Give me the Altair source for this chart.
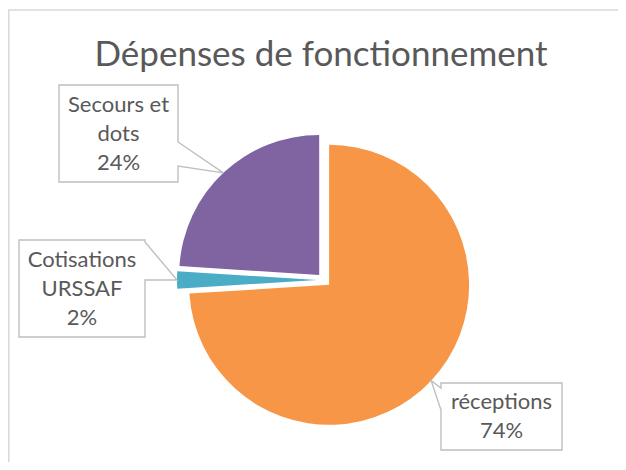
import math
import altair as alt
import pandas as pd

# ---------------- data ----------------
CATEGORIES = ["réceptions", "Cotisations URSSAF", "Secours et dots"]
VALUES = [74, 2, 24]
LABEL_LINES = ["réceptions", "Cotisations\nURSSAF", "Secours et\ndots"]
COLORS = ["#F79646", "#4BACC6", "#8064A2"]
TITLE = "Dépenses de fonctionnement"

# ---------------- layout ----------------
W, H = 610, 454
CX, CY, R, EXPLODE = 316, 272, 140, 7
FONT = "Lato"
TEXT_COLOR = "#595959"
BOX_COLOR = "#BFBFBF"
FRAME_COLOR = "#D9D9D9"
LINE_H = 29

# callout boxes: (x0, y0, x1, y1), side where the pointer leaves, pointer attach ys
CALLOUTS = {
    "Secours et dots": dict(box=(51, 77, 170, 174), side="right", attach=(134, 158)),
    "Cotisations URSSAF": dict(box=(11, 232, 137, 329), side="right", attach=(234, 272)),
    "réceptions": dict(box=(433, 375, 554, 442), side="left", attach=(380, 402)),
}

total = sum(VALUES)
cum = 0
path_rows = []
text_rows = []
for cat, val, lines in zip(CATEGORIES, VALUES, LABEL_LINES):
    cum += val
    mid = 2 * math.pi * (cum - val / 2) / total
    tx = CX + (EXPLODE + R) * math.sin(mid)
    ty = CY - (EXPLODE + R) * math.cos(mid)
    c = CALLOUTS[cat]
    x0, y0, x1, y1 = c["box"]
    a0, a1 = c["attach"]
    if c["side"] == "right":
        pts = [(x0, y0), (x1, y0), (x1, a0), (tx, ty), (x1, a1), (x1, y1), (x0, y1), (x0, y0)]
    else:
        pts = [(x0, y0), (x1, y0), (x1, y1), (x0, y1), (x0, a1), (tx, ty), (x0, a0), (x0, y0)]
    for k, (px, py) in enumerate(pts):
        path_rows.append({"category": cat, "k": k, "px": px, "py": py})
    pct = round(100 * val / total)
    label = f"{lines}\n{pct}%"
    n = label.count("\n") + 1
    text_rows.append({"category": cat, "label": label,
                      "px": (x0 + x1) / 2,
                      "py": (y0 + y1) / 2 - (n - 1) * LINE_H / 2})

pie_df = pd.DataFrame({"category": CATEGORIES, "value": VALUES, "idx": list(range(len(VALUES)))})
path_df = pd.DataFrame(path_rows)
text_df = pd.DataFrame(text_rows)

noaxis_x = lambda f: alt.X(f, scale=None, axis=None)
noaxis_y = lambda f: alt.Y(f, scale=None, axis=None)

frame = alt.Chart(pd.DataFrame({"a": [0]})).mark_rect(
    fill="white", fillOpacity=0, stroke=FRAME_COLOR, strokeWidth=1.5
).encode(x=alt.value(0.8), x2=alt.value(1000), y=alt.value(2), y2=alt.value(1000))

title = alt.Chart(pd.DataFrame({"t": [TITLE]})).mark_text(
    font=FONT, fontSize=35, color=TEXT_COLOR, align="center", baseline="alphabetic"
).encode(x=alt.value(313), y=alt.value(58), text="t:N")

pie = alt.Chart(pie_df).transform_window(
    cum="sum(value)", sort=[alt.SortField("idx")], frame=[None, 0]
).transform_joinaggregate(
    total="sum(value)"
).transform_calculate(
    t0="2*PI*(datum.cum-datum.value)/datum.total",
    t1="2*PI*datum.cum/datum.total",
    mid="2*PI*(datum.cum-datum.value/2)/datum.total",
).transform_calculate(
    px=f"{CX}+{EXPLODE}*sin(datum.mid)",
    py=f"{CY}-{EXPLODE}*cos(datum.mid)",
).mark_arc(radius=R).encode(
    theta=alt.Theta("t0:Q", scale=None),
    theta2="t1:Q",
    x=noaxis_x("px:Q"),
    y=noaxis_y("py:Q"),
    color=alt.Color("category:N", scale=alt.Scale(domain=CATEGORIES, range=COLORS), legend=None),
)

boxes = alt.Chart(path_df).mark_line(
    color=BOX_COLOR, strokeWidth=1.4, strokeJoin="miter", strokeCap="square"
).encode(
    x=noaxis_x("px:Q"), y=noaxis_y("py:Q"), order="k:Q", detail="category:N"
)

labels = alt.Chart(text_df).mark_text(
    font=FONT, fontSize=22, color=TEXT_COLOR, align="center", baseline="middle",
    lineBreak="\n", lineHeight=LINE_H
).encode(x=noaxis_x("px:Q"), y=noaxis_y("py:Q"), text="label:N")

chart = alt.layer(frame, title, pie, boxes, labels).properties(
    width=W, height=H, padding=0, autosize="none"
).configure_view(stroke=None)

chart.save("out.html", embed_options={"renderer": "svg", "actions": False})
